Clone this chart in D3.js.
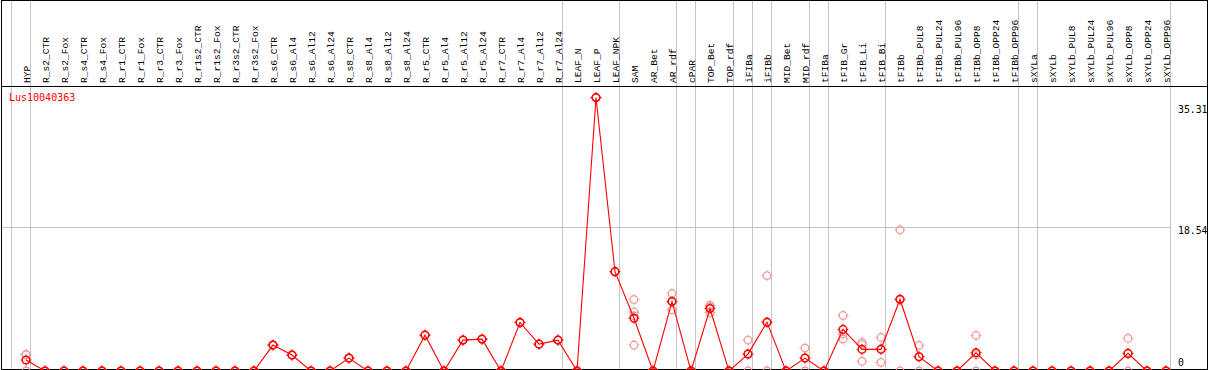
<!DOCTYPE html>
<html>
<head>
<meta charset="utf-8">
<script src="https://cdn.jsdelivr.net/npm/d3@7"></script>
<style>
    body { margin: 0; background: #fff; }
    svg text { font-family: "DejaVu Sans Mono", monospace; }
    svg .sample { font-family: "Liberation Mono", "DejaVu Sans Mono", monospace; }
</style>
</head>
<body>
<div id="chart"></div>
<script>

const geneName = "Lus10040363";

const categories = ["HYP", "R_s2_CTR", "R_s2_Fox", "R_s4_CTR", "R_s4_Fox", "R_r1_CTR", "R_r1_Fox",
    "R_r3_CTR", "R_r3_Fox", "R_r1s2_CTR", "R_r1s2_Fox", "R_r3s2_CTR", "R_r3s2_Fox", "R_s6_CTR",
    "R_s6_Al4", "R_s6_Al12", "R_s6_Al24", "R_s8_CTR", "R_s8_Al4", "R_s8_Al12", "R_s8_Al24",
    "R_r5_CTR", "R_r5_Al4", "R_r5_Al12", "R_r5_Al24", "R_r7_CTR", "R_r7_Al4", "R_r7_Al12",
    "R_r7_Al24", "LEAF_N", "LEAF_P", "LEAF_NPK", "SAM", "AR_Bet", "AR_rdf", "cPAR", "TOP_Bet",
    "TOP_rdf", "iFIBa", "iFIBb", "MID_Bet", "MID_rdf", "tFIBa", "tFIB_Gr", "tFIB_Li", "tFIB_Bi",
    "tFIBb", "tFIBb_PUL8", "tFIBb_PUL24", "tFIBb_PUL96", "tFIBb_OPP8", "tFIBb_OPP24",
    "tFIBb_OPP96", "sXYLa", "sXYLb", "sXYLb_PUL8", "sXYLb_PUL24", "sXYLb_PUL96", "sXYLb_OPP8",
    "sXYLb_OPP24", "sXYLb_OPP96"];

// categories that open a new sample group (grey divider on their left)
const groupStarts = ["HYP", "R_s2_CTR", "LEAF_N", "SAM", "cPAR", "TOP_Bet", "iFIBa", "iFIBb",
    "MID_Bet", "tFIBa", "tFIB_Gr", "tFIBb", "sXYLa", "sXYLb"];

const means = [1.42, 0, 0, 0, 0, 0, 0, 0, 0, 0, 0, 0, 0, 3.35,
    2.06, 0, 0, 1.67, 0, 0, 0,
    4.63, 0, 3.99, 4.12, 0, 6.27, 3.47,
    3.99, 0, 35.31, 12.83, 6.82, 0, 8.97, 0, 8.07,
    0, 2.19, 6.31, 0, 1.67, 0, 5.37, 2.79, 2.79,
    9.27, 1.84, 0, 0, 2.35, 0,
    0, 0, 0, 0, 0, 0, 2.28,
    0, 0];

const replicates = [[2.1, 2.15, 0], [0, 0, 0], [0, 0, 0], [0, 0, 0], [0, 0, 0], [0, 0, 0], [0, 0, 0],
    [0, 0, 0], [0, 0, 0], [0, 0, 0], [0, 0, 0], [0, 0, 0], [0, 0, 0], [3.35, 3.35, 3.35],
    [2.06, 2.06, 2.06], [0, 0, 0], [0, 0, 0], [1.67, 1.67, 1.67], [0, 0, 0], [0, 0, 0], [0, 0, 0],
    [4.63, 4.63, 4.63], [0, 0, 0], [3.99, 3.99, 3.99], [4.12, 4.12, 4.12], [0, 0, 0], [6.27, 6.27, 6.27], [3.47, 3.47, 3.47],
    [3.99, 3.99, 3.99], [0, 0, 0], [35.31, 35.31, 35.31], [12.83, 12.83, 12.83], [9.23, 7.63, 7.11, 3.35], [0, 0, 0], [10.0, 9.0, 7.89], [0, 0, 0], [8.49, 8.30, 7.55],
    [0, 0, 0], [3.99, 2.19, 0], [12.32, 6.2, 0], [0, 0, 0], [2.96, 1.67, 0], [0, 0, 0], [7.17, 4.80, 4.12], [3.69, 3.44, 1.25], [4.34, 2.92, 1.12],
    [18.23, 9.18, 0], [3.31, 1.84, 0], [0, 0, 0], [0, 0, 0], [4.59, 2.10, 0], [0, 0, 0],
    [0, 0, 0], [0, 0, 0], [0, 0, 0], [0, 0, 0], [0, 0, 0], [0, 0, 0], [4.21, 2.23, 0],
    [0, 0, 0], [0, 0, 0]];

const tickValues = [0, 18.54, 35.31];


const width = 1209;
const height = 370;
const headerBottom = 86;

const svg = d3.select("#chart").append("svg")
    .attr("width", width)
    .attr("height", height);

// one band per sample, the point sits near the right side of its band
const xBand = d3.scaleBand()
    .domain(categories)
    .range([11, 1170]);

const xPos = d => xBand(d) + 15;

const y = d3.scaleLinear()
    .domain([0, d3.max(tickValues)])
    .range([371, 97.6]);

// grey grid
svg.append("g")
    .selectAll("line")
    .data(tickValues.filter(v => v > 0 && v < d3.max(tickValues)))
    .enter().append("line")
    .attr("x1", 1)
    .attr("x2", xBand.range()[1])
    .attr("y1", d => Math.round(y(d)) + 0.5)
    .attr("y2", d => Math.round(y(d)) + 0.5)
    .attr("stroke", "#c4c4c4");

svg.append("g")
    .selectAll("line")
    .data(groupStarts.map(c => xBand(c)).concat([xBand.range()[1]]))
    .enter().append("line")
    .attr("x1", d => Math.round(d) + 0.5)
    .attr("x2", d => Math.round(d) + 0.5)
    .attr("y1", 0)
    .attr("y2", height)
    .attr("stroke", "#c4c4c4");

// frame and header rule
svg.append("rect")
    .attr("x", 1.5)
    .attr("y", 0.5)
    .attr("width", 1206)
    .attr("height", 369)
    .attr("fill", "none")
    .attr("stroke", "#000");

svg.append("line")
    .attr("x1", 1)
    .attr("x2", 1208)
    .attr("y1", headerBottom + 0.5)
    .attr("y2", headerBottom + 0.5)
    .attr("stroke", "#000");

// sample names
svg.append("g")
    .selectAll("text")
    .data(categories)
    .enter().append("text")
    .attr("class", "sample")
    .attr("transform", d => `translate(${xPos(d) + 3.5},83) rotate(-90)`)
    .attr("font-size", "9.6px")
    .attr("fill", "#000")
    .text(d => d);

// value labels on the right
svg.append("g")
    .selectAll("text")
    .data(tickValues)
    .enter().append("text")
    .attr("x", 1178)
    .attr("y", d => Math.min(Math.max(y(d) + 7, headerBottom + 27), height - 4))
    .attr("font-size", "9.8px")
    .attr("fill", "#000")
    .text(d => d);

svg.append("text")
    .attr("x", 9)
    .attr("y", 101)
    .attr("font-size", "10px")
    .attr("fill", "#ff0000")
    .text(geneName);

function marker(g, colour, sw) {
    g.append("circle")
        .attr("r", 3.8)
        .attr("fill", "none")
        .attr("stroke", colour)
        .attr("stroke-width", sw);
    [[0, -1], [0, 1], [-1, 0], [1, 0]].forEach(v => {
        g.append("line")
            .attr("x1", v[0] * 3.7)
            .attr("y1", v[1] * 3.7)
            .attr("x2", v[0] * 5.4)
            .attr("y2", v[1] * 5.4)
            .attr("stroke", colour)
            .attr("stroke-width", 1);
    });
}

// replicate points
const repData = [];
replicates.forEach((reps, i) => {
    reps.forEach(v => repData.push({ cat: categories[i], value: v }));
});

svg.append("g")
    .selectAll("g")
    .data(repData)
    .enter().append("g")
    .attr("transform", d => `translate(${xPos(d.cat)},${y(d.value)})`)
    .each(function() { marker(d3.select(this), "#f19c9c", 1.3); });

// mean profile
const meanData = categories.map((c, i) => ({ cat: c, value: means[i] }));

svg.append("path")
    .datum(meanData)
    .attr("fill", "none")
    .attr("stroke", "#ff0000")
    .attr("stroke-width", 1.1)
    .attr("d", d3.line().x(d => xPos(d.cat)).y(d => y(d.value)));

svg.append("g")
    .selectAll("g")
    .data(meanData)
    .enter().append("g")
    .attr("transform", d => `translate(${xPos(d.cat)},${y(d.value)})`)
    .each(function() { marker(d3.select(this), "#ff0000", 1.5); });

</script>
</body>
</html>
